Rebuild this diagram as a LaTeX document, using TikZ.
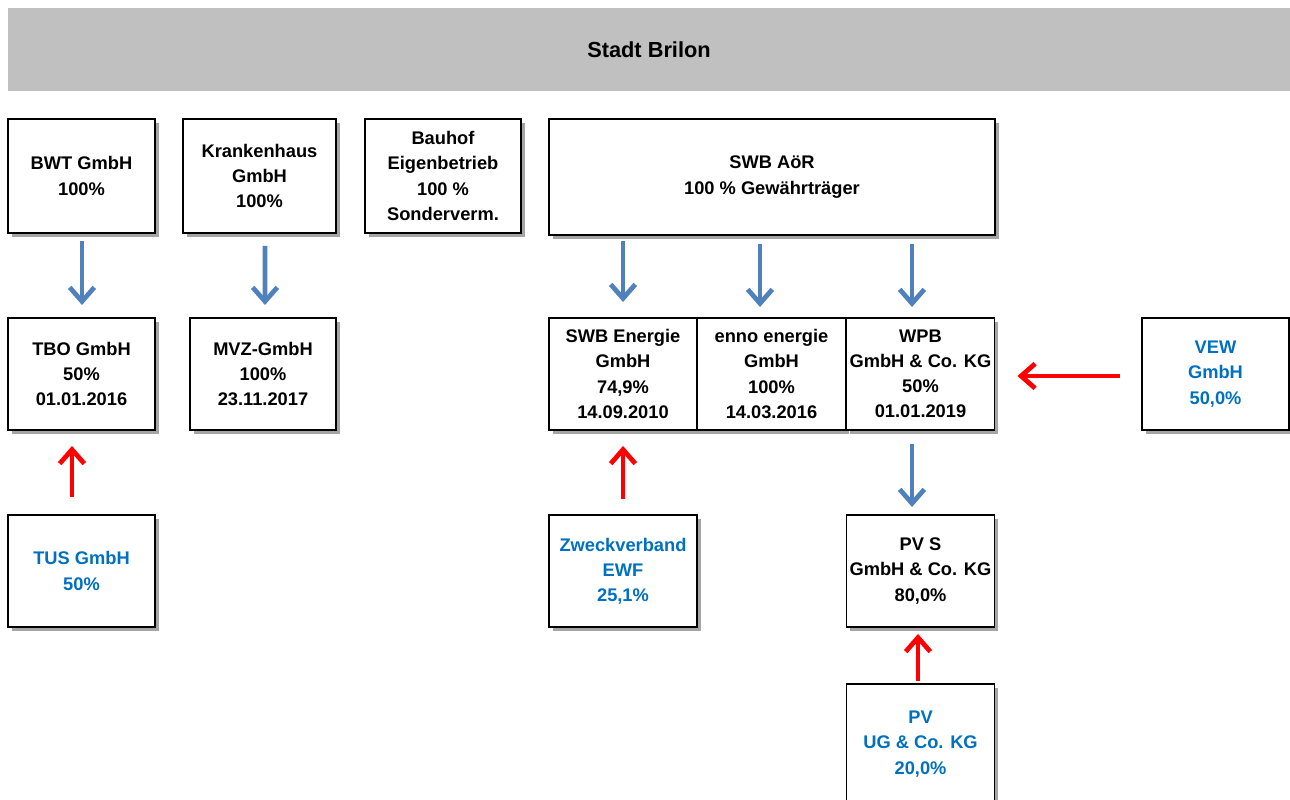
\documentclass[tikz,border=0pt]{standalone}
\usepackage{fontspec}
\setmainfont{Liberation Sans}
\usetikzlibrary{arrows.meta,shadows}
\definecolor{stadtgrau}{HTML}{C0C0C0}
\definecolor{textblau}{HTML}{0070C0}
\definecolor{pfeilblau}{HTML}{4F81BD}
\definecolor{pfeilrot}{HTML}{FF0000}
\tikzset{
  firma/.style = {draw, line width=1.1pt, fill=white, align=center,
    minimum width=2.96cm, minimum height=2.24cm, inner sep=1pt,
    font=\fontsize{10.4}{14.3}\selectfont\bfseries,
    drop shadow={shadow xshift=2.2pt, shadow yshift=-2.2pt, fill=black!70, opacity=0.5}},
  fremd/.style = {firma, text=textblau},
  blaupfeil/.style = {draw=pfeilblau, line width=2.7pt, -{Straight Barb[length=8pt,width=14pt]}},
  rotpfeil/.style = {draw=pfeilrot, line width=2.7pt, -{Straight Barb[length=8pt,width=14pt]}}
}
\begin{document}
\begin{tikzpicture}
\useasboundingbox (0,0) rectangle (25.8,15.98);
% Kopfzeile
\node[fill=stadtgrau, minimum width=25.64cm, minimum height=1.66cm, font=\fontsize{12.4}{14}\selectfont\bfseries](stadt)at(12.98,14.99){Stadt Brilon};
% erste Ebene
\node[firma, minimum width=2.94cm, minimum height=2.28cm](bwt)at(1.63,12.46){BWT GmbH\\100\%};
\node[firma, minimum width=3.06cm, minimum height=2.28cm](kh)at(5.19,12.46){Krankenhaus\\GmbH\\100\%};
\node[firma, minimum width=3.12cm, minimum height=2.28cm](bauhof)at(8.86,12.46){Bauhof\\Eigenbetrieb\\100 \%\\Sonderverm.};
\node[firma, minimum width=8.92cm, minimum height=2.32cm](aor)at(15.44,12.44){SWB AöR\\100 \% Gewährträger};
% zweite Ebene
\node[firma, minimum width=2.94cm](tbo)at(1.63,8.5){TBO GmbH\\50\%\\01.01.2016};
\node[firma, minimum width=2.92cm](mvz)at(5.26,8.5){MVZ-GmbH\\100\%\\23.11.2017};
\node[firma](energie)at(12.46,8.5){SWB Energie\\GmbH\\74,9\%\\14.09.2010};
\node[firma](enno)at(15.43,8.5){enno energie\\GmbH\\100\%\\14.03.2016};
\node[firma](wpb)at(18.41,8.5){WPB\\GmbH \& Co. KG\\50\%\\01.01.2019};
\node[fremd, minimum width=2.94cm](vew)at(24.31,8.5){VEW\\GmbH\\50,0\%};
% dritte Ebene
\node[fremd, minimum width=2.94cm](tus)at(1.63,4.56){TUS GmbH\\50\%};
\node[fremd](zweck)at(12.46,4.56){Zweckverband\\EWF\\25,1\%};
\node[firma](pvs)at(18.41,4.56){PV S\\GmbH \& Co. KG\\80,0\%};
\node[fremd, minimum height=2.4cm](pvug)at(18.41,1.1){PV\\UG \& Co. KG\\20,0\%};
% Beteiligungen
\draw[blaupfeil, shorten <=0.14cm, shorten >=0.24cm]([xshift=0.1mm]bwt.south)--([xshift=0.1mm]tbo.north);
\draw[blaupfeil, shorten <=0.24cm, shorten >=0.24cm]([xshift=1.1mm]kh.south)--([xshift=0.4mm]mvz.north);
\draw[blaupfeil, shorten <=0.1cm, shorten >=0.3cm](aor.south -| energie.north)--(energie.north);
\draw[blaupfeil, shorten <=0.16cm, shorten >=0.2cm]([xshift=-2.3mm]aor.south -| enno.north)--([xshift=-2.3mm]enno.north);
\draw[blaupfeil, shorten <=0.16cm, shorten >=0.2cm]([xshift=-1.7mm]aor.south -| wpb.north)--([xshift=-1.7mm]wpb.north);
\draw[blaupfeil, shorten <=0.26cm, shorten >=0.14cm]([xshift=-1.7mm]wpb.south)--([xshift=-1.7mm]pvs.north);
\draw[rotpfeil, shorten <=0.34cm, shorten >=0.3cm]([xshift=-1.9mm]tus.north)--([xshift=-1.9mm]tbo.south);
\draw[rotpfeil, shorten <=0.3cm, shorten >=0.3cm](zweck.north)--(energie.south);
\draw[rotpfeil, shorten <=0.42cm, shorten >=0.44cm]([yshift=-0.4mm]vew.west)--([yshift=-0.4mm]wpb.east);
\draw[rotpfeil, shorten <=0.04cm, shorten >=0.12cm]([xshift=-0.5mm]pvug.north)--([xshift=-0.5mm]pvs.south);
\end{tikzpicture}
\end{document}
